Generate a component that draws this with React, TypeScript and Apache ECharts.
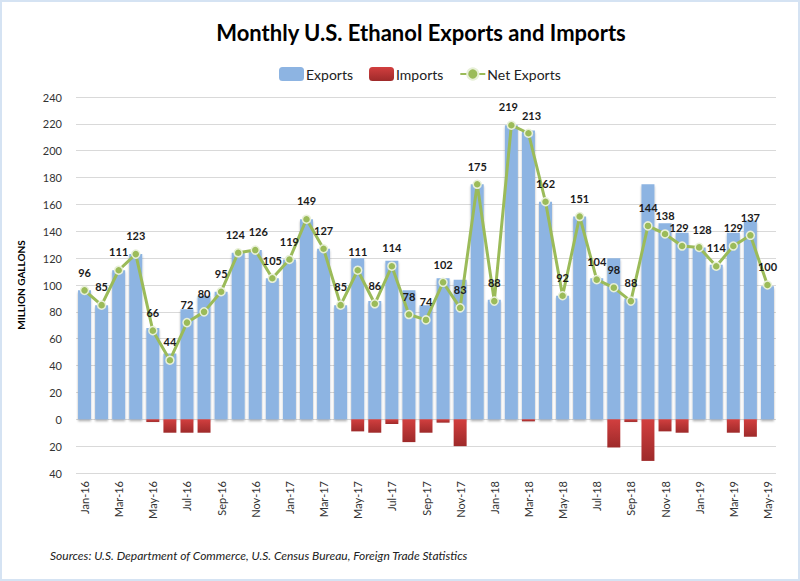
import React, { useEffect, useRef } from "react";
import * as echarts from "echarts";

// Monthly ethanol trade, million gallons
const months = [
  "Jan-16", "Feb-16", "Mar-16", "Apr-16", "May-16", "Jun-16", "Jul-16", "Aug-16", "Sep-16", "Oct-16", "Nov-16", "Dec-16",
  "Jan-17", "Feb-17", "Mar-17", "Apr-17", "May-17", "Jun-17", "Jul-17", "Aug-17", "Sep-17", "Oct-17", "Nov-17", "Dec-17",
  "Jan-18", "Feb-18", "Mar-18", "Apr-18", "May-18", "Jun-18", "Jul-18", "Aug-18", "Sep-18", "Oct-18", "Nov-18", "Dec-18",
  "Jan-19", "Feb-19", "Mar-19", "Apr-19", "May-19",
];

const exportsVol = [
  96, 85, 111, 123, 68, 49, 82, 92, 95, 124, 126, 105,
  119, 149, 127, 85, 120, 88, 118, 96, 85, 105, 104, 175,
  89, 219, 215, 162, 92, 151, 105, 120, 90, 175, 146, 139,
  128, 115, 139, 148, 99,
];

// Imports shown as downward bars
const importsVol = [
  0, 0, 0, 0, 2, 10, 10, 10, 0, 0, 0, 0,
  0, 0, 0, 0, 9, 10, 3.5, 17, 10, 2.5, 20, 0,
  0, 0, 1.5, 0, 0, 0, 0, 21, 2, 31, 9, 10,
  0, 0, 10, 13, 0,
];

const netExports = [
  96, 85, 111, 123, 66, 44, 72, 80, 95, 124, 126, 105,
  119, 149, 127, 85, 111, 86, 114, 78, 74, 102, 83, 175,
  88, 219, 213, 162, 92, 151, 104, 98, 88, 144, 138, 129,
  128, 114, 129, 137, 100,
];

const FONT = "Lato, 'Liberation Sans', sans-serif";

// Horizontal nudges for value labels that sit next to each other
const labelNudge: Record<number, number> = { 9: -3, 10: 3, 25: -3, 26: 3, 35: -3, 36: 3 };

export default function App() {
  const ref = useRef<HTMLDivElement>(null);

  useEffect(() => {
    if (!ref.current) return;
    const chart = echarts.init(ref.current, undefined, { renderer: "svg" });
    const netData = netExports.map((v, i) =>
      labelNudge[i] !== undefined ? { value: v, label: { offset: [labelNudge[i], 0] } } : v
    );
    chart.setOption({
      animation: false,
      backgroundColor: "#ffffff",
      textStyle: { fontFamily: FONT },
      title: {
        text: "Monthly U.S. Ethanol Exports and Imports",
        left: 416,
        textAlign: "center",
        top: 16,
        textStyle: { fontFamily: FONT, fontSize: 22, fontWeight: "bold", color: "#000" },
      },
      legend: {
        top: 62,
        left: 274,
        itemWidth: 25,
        itemHeight: 14,
        itemGap: 16,
        textStyle: { fontFamily: FONT, fontSize: 14, color: "#222", padding: [0, 0, 0, -3] },
        data: ["Exports", "Imports", "Net Exports"],
      },
      grid: { left: 76, right: 24, top: 97, bottom: 108 },
      xAxis: {
        type: "category",
        data: months,
        axisLine: { show: false },
        axisTick: { show: false },
        axisLabel: {
          rotate: 90,
          interval: 1,
          fontSize: 11,
          color: "#333",
          margin: 8,
          fontFamily: FONT,
        },
      },
      yAxis: {
        type: "value",
        min: -40,
        max: 240,
        interval: 20,
        name: "MILLION GALLONS",
        nameLocation: "middle",
        nameGap: 50,
        nameRotate: 90,
        nameTextStyle: { fontFamily: FONT, fontSize: 10, fontWeight: "bold", color: "#000" },
        axisLine: { show: false },
        axisTick: { show: false },
        axisLabel: {
          fontSize: 11,
          color: "#333",
          margin: 14,
          formatter: (v: number) => String(Math.abs(v)),
        },
        splitLine: { lineStyle: { color: "#d9d9d9", width: 1 } },
      },
      series: [
        {
          name: "Exports",
          type: "bar",
          stack: "trade",
          barWidth: "76%",
          data: exportsVol,
          itemStyle: {
            color: "#8db4e2",
            shadowColor: "rgba(0,0,0,0.3)",
            shadowBlur: 2,
            shadowOffsetY: 2,
          },
        },
        {
          name: "Imports",
          type: "bar",
          stack: "trade",
          barWidth: "76%",
          data: importsVol.map((v) => -v),
          itemStyle: {
            color: new echarts.graphic.LinearGradient(0, 0, 0, 1, [
              { offset: 0, color: "#d23f3f" },
              { offset: 1, color: "#9e2a2a" },
            ]),
          },
        },
        {
          name: "Net Exports",
          type: "line",
          data: netData,
          symbol: "circle",
          symbolSize: 8,
          lineStyle: { color: "#9bbb59", width: 3 },
          itemStyle: { color: "#9bbb59", borderColor: "#e8f0d8", borderWidth: 1.5 },
          label: {
            show: true,
            position: "top",
            distance: 8,
            fontSize: 11,
            fontWeight: "bold",
            color: "#1a1a1a",
            fontFamily: FONT,
          },
          z: 5,
        },
      ],
      graphic: [
        {
          type: "rect",
          shape: { x: 1, y: 1, width: 798, height: 579 },
          style: { fill: "none", stroke: "#d5e3f3", lineWidth: 2 },
          silent: true,
        },
        {
          type: "text",
          left: 50,
          top: 549,
          style: {
            text: "Sources: U.S. Department of Commerce, U.S. Census Bureau, Foreign Trade Statistics",
            fontFamily: FONT,
            fontSize: 12,
            fontStyle: "italic",
            fill: "#222",
          },
        },
      ],
    });
    return () => chart.dispose();
  }, []);

  return (
    <div
      ref={ref}
      style={{ position: "fixed", left: 0, top: 0, width: 800, height: 581 }}
    />
  );
}
